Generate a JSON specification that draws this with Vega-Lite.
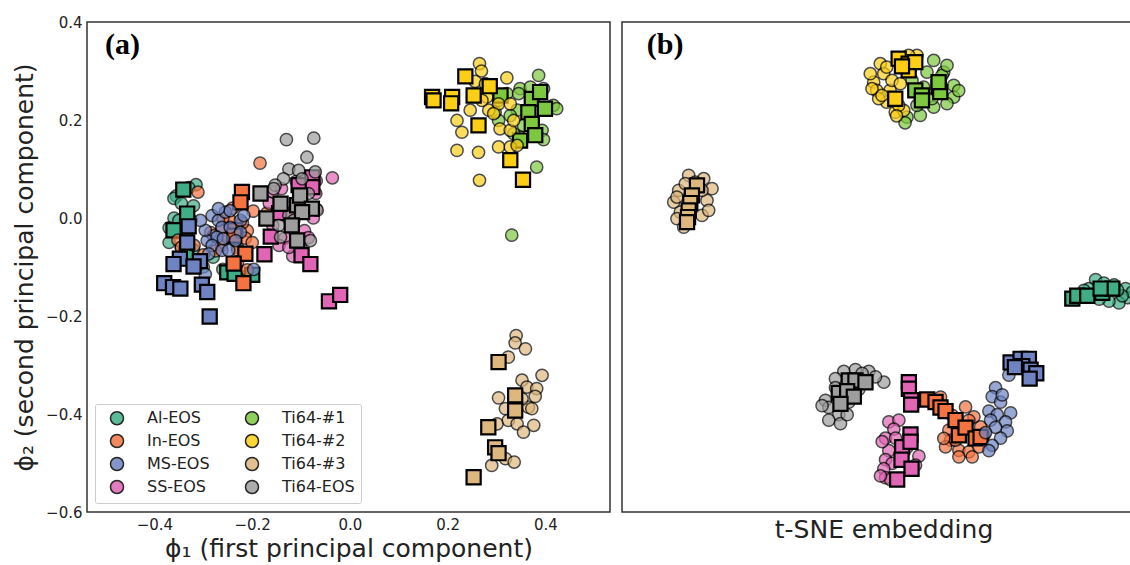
{
"$schema": "https://vega.github.io/schema/vega-lite/v6.json",
"background": "white",
"padding": {"left": 11, "top": 14, "right": 0, "bottom": 0},
"spacing": 10,
"config": {
  "font": "DejaVu Sans",
  "view": {"stroke": "#333333", "strokeWidth": 1.5},
  "axis": {"grid": false, "ticks": false, "domain": false, "labelFontSize": 15, "labelColor": "#222222", "titleFontSize": 25, "titleFontWeight": "normal", "titleColor": "#222222", "labelPadding": 5, "labelFont": "DejaVu Sans", "titleFont": "DejaVu Sans"}
},
"resolve": {"scale": {"color": "independent", "shape": "independent", "size": "independent", "opacity": "independent", "strokeWidth": "independent"}, "legend": {"color": "independent"}},
"datasets": {
"pca": [
{"group":"Al-EOS","set":"train","x":-0.315,"y":0.068},{"group":"Al-EOS","set":"train","x":-0.33,"y":0.062},{"group":"Al-EOS","set":"train","x":-0.355,"y":0.045},{"group":"Al-EOS","set":"train","x":-0.36,"y":0.04},{"group":"Al-EOS","set":"train","x":-0.345,"y":0.03},{"group":"Al-EOS","set":"train","x":-0.32,"y":0.025},{"group":"Al-EOS","set":"train","x":-0.36,"y":0.0},{"group":"Al-EOS","set":"train","x":-0.35,"y":-0.005},{"group":"Al-EOS","set":"train","x":-0.325,"y":-0.005},{"group":"Al-EOS","set":"train","x":-0.37,"y":-0.02},{"group":"Al-EOS","set":"train","x":-0.355,"y":-0.03},{"group":"Al-EOS","set":"train","x":-0.335,"y":-0.03},{"group":"Al-EOS","set":"train","x":-0.37,"y":-0.05},{"group":"Al-EOS","set":"train","x":-0.345,"y":-0.06},{"group":"Al-EOS","set":"train","x":-0.32,"y":-0.065},{"group":"Al-EOS","set":"train","x":-0.335,"y":-0.085},{"group":"Al-EOS","set":"train","x":-0.31,"y":-0.09},{"group":"Al-EOS","set":"train","x":-0.3,"y":-0.1},{"group":"Al-EOS","set":"train","x":-0.26,"y":-0.105},{"group":"Al-EOS","set":"train","x":-0.24,"y":-0.115},{"group":"Al-EOS","set":"train","x":-0.22,"y":-0.12},{"group":"Al-EOS","set":"train","x":-0.2,"y":-0.115},{"group":"Al-EOS","set":"train","x":-0.28,"y":-0.08},{"group":"Al-EOS","set":"train","x":-0.23,"y":-0.06},
{"group":"Al-EOS","set":"test","x":-0.341,"y":0.058},{"group":"Al-EOS","set":"test","x":-0.333,"y":0.009},{"group":"Al-EOS","set":"test","x":-0.361,"y":-0.025},{"group":"Al-EOS","set":"test","x":-0.335,"y":-0.075},{"group":"Al-EOS","set":"test","x":-0.251,"y":-0.111},{"group":"Al-EOS","set":"test","x":-0.236,"y":-0.114},{"group":"Al-EOS","set":"test","x":-0.2,"y":-0.116},
{"group":"In-EOS","set":"train","x":-0.184,"y":0.112},{"group":"In-EOS","set":"train","x":-0.311,"y":0.053},{"group":"In-EOS","set":"train","x":-0.198,"y":0.014},{"group":"In-EOS","set":"train","x":-0.21,"y":-0.026},{"group":"In-EOS","set":"train","x":-0.214,"y":-0.041},{"group":"In-EOS","set":"train","x":-0.246,"y":-0.004},{"group":"In-EOS","set":"train","x":-0.263,"y":-0.026},{"group":"In-EOS","set":"train","x":-0.331,"y":-0.026},{"group":"In-EOS","set":"train","x":-0.352,"y":-0.045},{"group":"In-EOS","set":"train","x":-0.319,"y":-0.056},{"group":"In-EOS","set":"train","x":-0.263,"y":-0.056},{"group":"In-EOS","set":"train","x":-0.23,"y":-0.065},{"group":"In-EOS","set":"train","x":-0.21,"y":-0.106},{"group":"In-EOS","set":"train","x":-0.275,"y":-0.067},{"group":"In-EOS","set":"train","x":-0.3,"y":-0.075},{"group":"In-EOS","set":"train","x":-0.25,"y":-0.04},{"group":"In-EOS","set":"train","x":-0.22,"y":-0.01},{"group":"In-EOS","set":"train","x":-0.24,"y":0.02},{"group":"In-EOS","set":"train","x":-0.285,"y":-0.03},{"group":"In-EOS","set":"train","x":-0.2,"y":-0.05},{"group":"In-EOS","set":"train","x":-0.17,"y":0.01},{"group":"In-EOS","set":"train","x":-0.345,"y":-0.06},{"group":"In-EOS","set":"train","x":-0.26,"y":0.0},{"group":"In-EOS","set":"train","x":-0.23,"y":-0.09},
{"group":"In-EOS","set":"test","x":-0.221,"y":0.053},{"group":"In-EOS","set":"test","x":-0.224,"y":0.032},{"group":"In-EOS","set":"test","x":-0.235,"y":-0.025},{"group":"In-EOS","set":"test","x":-0.237,"y":-0.036},{"group":"In-EOS","set":"test","x":-0.214,"y":-0.073},{"group":"In-EOS","set":"test","x":-0.238,"y":-0.093},{"group":"In-EOS","set":"test","x":-0.218,"y":-0.133},
{"group":"MS-EOS","set":"train","x":-0.282,"y":0.005},{"group":"MS-EOS","set":"train","x":-0.269,"y":-0.005},{"group":"MS-EOS","set":"train","x":-0.255,"y":0.012},{"group":"MS-EOS","set":"train","x":-0.262,"y":-0.019},{"group":"MS-EOS","set":"train","x":-0.245,"y":-0.019},{"group":"MS-EOS","set":"train","x":-0.279,"y":-0.036},{"group":"MS-EOS","set":"train","x":-0.292,"y":-0.046},{"group":"MS-EOS","set":"train","x":-0.272,"y":-0.039},{"group":"MS-EOS","set":"train","x":-0.296,"y":-0.025},{"group":"MS-EOS","set":"train","x":-0.282,"y":-0.056},{"group":"MS-EOS","set":"train","x":-0.262,"y":-0.066},{"group":"MS-EOS","set":"train","x":-0.248,"y":-0.066},{"group":"MS-EOS","set":"train","x":-0.289,"y":-0.073},{"group":"MS-EOS","set":"train","x":-0.224,"y":-0.005},{"group":"MS-EOS","set":"train","x":-0.217,"y":0.005},{"group":"MS-EOS","set":"train","x":-0.224,"y":-0.029},{"group":"MS-EOS","set":"train","x":-0.234,"y":-0.046},{"group":"MS-EOS","set":"train","x":-0.197,"y":-0.105},{"group":"MS-EOS","set":"train","x":-0.296,"y":-0.115},{"group":"MS-EOS","set":"train","x":-0.245,"y":0.015},{"group":"MS-EOS","set":"train","x":-0.269,"y":0.019},{"group":"MS-EOS","set":"train","x":-0.306,"y":-0.005},{"group":"MS-EOS","set":"train","x":-0.259,"y":-0.042},
{"group":"MS-EOS","set":"test","x":-0.33,"y":-0.017},{"group":"MS-EOS","set":"test","x":-0.333,"y":-0.05},{"group":"MS-EOS","set":"test","x":-0.348,"y":-0.083},{"group":"MS-EOS","set":"test","x":-0.361,"y":-0.094},{"group":"MS-EOS","set":"test","x":-0.307,"y":-0.088},{"group":"MS-EOS","set":"test","x":-0.32,"y":-0.099},{"group":"MS-EOS","set":"test","x":-0.38,"y":-0.133},{"group":"MS-EOS","set":"test","x":-0.362,"y":-0.141},{"group":"MS-EOS","set":"test","x":-0.347,"y":-0.144},{"group":"MS-EOS","set":"test","x":-0.303,"y":-0.136},{"group":"MS-EOS","set":"test","x":-0.292,"y":-0.151},{"group":"MS-EOS","set":"test","x":-0.287,"y":-0.201},
{"group":"SS-EOS","set":"train","x":-0.036,"y":0.082},{"group":"SS-EOS","set":"train","x":-0.069,"y":0.076},{"group":"SS-EOS","set":"train","x":-0.09,"y":0.08},{"group":"SS-EOS","set":"train","x":-0.11,"y":0.075},{"group":"SS-EOS","set":"train","x":-0.145,"y":0.032},{"group":"SS-EOS","set":"train","x":-0.069,"y":0.018},{"group":"SS-EOS","set":"train","x":-0.158,"y":0.054},{"group":"SS-EOS","set":"train","x":-0.093,"y":-0.026},{"group":"SS-EOS","set":"train","x":-0.158,"y":-0.015},{"group":"SS-EOS","set":"train","x":-0.133,"y":-0.041},{"group":"SS-EOS","set":"train","x":-0.101,"y":-0.056},{"group":"SS-EOS","set":"train","x":-0.145,"y":-0.056},{"group":"SS-EOS","set":"train","x":-0.117,"y":-0.078},{"group":"SS-EOS","set":"train","x":-0.075,"y":0.0},{"group":"SS-EOS","set":"train","x":-0.12,"y":0.01},{"group":"SS-EOS","set":"train","x":-0.1,"y":0.04},{"group":"SS-EOS","set":"train","x":-0.085,"y":-0.04},{"group":"SS-EOS","set":"train","x":-0.165,"y":0.03},{"group":"SS-EOS","set":"train","x":-0.125,"y":-0.06},{"group":"SS-EOS","set":"train","x":-0.07,"y":0.05},{"group":"SS-EOS","set":"train","x":-0.14,"y":0.06},{"group":"SS-EOS","set":"train","x":-0.105,"y":0.02},
{"group":"SS-EOS","set":"test","x":-0.077,"y":0.083},{"group":"SS-EOS","set":"test","x":-0.077,"y":0.063},{"group":"SS-EOS","set":"test","x":-0.105,"y":0.067},{"group":"SS-EOS","set":"test","x":-0.145,"y":0.01},{"group":"SS-EOS","set":"test","x":-0.162,"y":-0.038},{"group":"SS-EOS","set":"test","x":-0.175,"y":-0.074},{"group":"SS-EOS","set":"test","x":-0.099,"y":-0.076},{"group":"SS-EOS","set":"test","x":-0.081,"y":-0.094},{"group":"SS-EOS","set":"test","x":-0.043,"y":-0.17},{"group":"SS-EOS","set":"test","x":-0.02,"y":-0.157},
{"group":"Ti64-#1","set":"train","x":0.386,"y":0.291},{"group":"Ti64-#1","set":"train","x":0.348,"y":0.264},{"group":"Ti64-#1","set":"train","x":0.396,"y":0.264},{"group":"Ti64-#1","set":"train","x":0.321,"y":0.254},{"group":"Ti64-#1","set":"train","x":0.345,"y":0.254},{"group":"Ti64-#1","set":"train","x":0.416,"y":0.23},{"group":"Ti64-#1","set":"train","x":0.423,"y":0.223},{"group":"Ti64-#1","set":"train","x":0.342,"y":0.22},{"group":"Ti64-#1","set":"train","x":0.304,"y":0.199},{"group":"Ti64-#1","set":"train","x":0.328,"y":0.209},{"group":"Ti64-#1","set":"train","x":0.355,"y":0.189},{"group":"Ti64-#1","set":"train","x":0.393,"y":0.179},{"group":"Ti64-#1","set":"train","x":0.396,"y":0.16},{"group":"Ti64-#1","set":"train","x":0.348,"y":0.165},{"group":"Ti64-#1","set":"train","x":0.382,"y":0.104},{"group":"Ti64-#1","set":"train","x":0.297,"y":0.216},{"group":"Ti64-#1","set":"train","x":0.335,"y":0.172},{"group":"Ti64-#1","set":"train","x":0.304,"y":0.24},{"group":"Ti64-#1","set":"train","x":0.369,"y":0.267},{"group":"Ti64-#1","set":"train","x":0.331,"y":-0.035},
{"group":"Ti64-#1","set":"test","x":0.308,"y":0.25},{"group":"Ti64-#1","set":"test","x":0.372,"y":0.243},{"group":"Ti64-#1","set":"test","x":0.389,"y":0.257},{"group":"Ti64-#1","set":"test","x":0.365,"y":0.216},{"group":"Ti64-#1","set":"test","x":0.399,"y":0.223},{"group":"Ti64-#1","set":"test","x":0.372,"y":0.192},{"group":"Ti64-#1","set":"test","x":0.379,"y":0.169},{"group":"Ti64-#1","set":"test","x":0.348,"y":0.158},
{"group":"Ti64-#2","set":"train","x":0.265,"y":0.315},{"group":"Ti64-#2","set":"train","x":0.269,"y":0.3},{"group":"Ti64-#2","set":"train","x":0.256,"y":0.279},{"group":"Ti64-#2","set":"train","x":0.321,"y":0.286},{"group":"Ti64-#2","set":"train","x":0.246,"y":0.22},{"group":"Ti64-#2","set":"train","x":0.219,"y":0.199},{"group":"Ti64-#2","set":"train","x":0.229,"y":0.175},{"group":"Ti64-#2","set":"train","x":0.284,"y":0.22},{"group":"Ti64-#2","set":"train","x":0.304,"y":0.233},{"group":"Ti64-#2","set":"train","x":0.328,"y":0.233},{"group":"Ti64-#2","set":"train","x":0.307,"y":0.182},{"group":"Ti64-#2","set":"train","x":0.328,"y":0.179},{"group":"Ti64-#2","set":"train","x":0.304,"y":0.145},{"group":"Ti64-#2","set":"train","x":0.328,"y":0.145},{"group":"Ti64-#2","set":"train","x":0.342,"y":0.148},{"group":"Ti64-#2","set":"train","x":0.219,"y":0.138},{"group":"Ti64-#2","set":"train","x":0.263,"y":0.134},{"group":"Ti64-#2","set":"train","x":0.265,"y":0.077},{"group":"Ti64-#2","set":"train","x":0.28,"y":0.247},{"group":"Ti64-#2","set":"train","x":0.277,"y":0.274},{"group":"Ti64-#2","set":"train","x":0.27,"y":0.24},{"group":"Ti64-#2","set":"train","x":0.294,"y":0.213},{"group":"Ti64-#2","set":"train","x":0.335,"y":0.199},
{"group":"Ti64-#2","set":"test","x":0.168,"y":0.247},{"group":"Ti64-#2","set":"test","x":0.171,"y":0.24},{"group":"Ti64-#2","set":"test","x":0.209,"y":0.247},{"group":"Ti64-#2","set":"test","x":0.207,"y":0.234},{"group":"Ti64-#2","set":"test","x":0.236,"y":0.289},{"group":"Ti64-#2","set":"test","x":0.253,"y":0.25},{"group":"Ti64-#2","set":"test","x":0.286,"y":0.269},{"group":"Ti64-#2","set":"test","x":0.263,"y":0.189},{"group":"Ti64-#2","set":"test","x":0.328,"y":0.118},{"group":"Ti64-#2","set":"test","x":0.354,"y":0.078},
{"group":"Ti64-#3","set":"train","x":0.34,"y":-0.24},{"group":"Ti64-#3","set":"train","x":0.338,"y":-0.255},{"group":"Ti64-#3","set":"train","x":0.359,"y":-0.267},{"group":"Ti64-#3","set":"train","x":0.324,"y":-0.284},{"group":"Ti64-#3","set":"train","x":0.352,"y":-0.331},{"group":"Ti64-#3","set":"train","x":0.393,"y":-0.321},{"group":"Ti64-#3","set":"train","x":0.362,"y":-0.345},{"group":"Ti64-#3","set":"train","x":0.382,"y":-0.348},{"group":"Ti64-#3","set":"train","x":0.379,"y":-0.364},{"group":"Ti64-#3","set":"train","x":0.304,"y":-0.367},{"group":"Ti64-#3","set":"train","x":0.318,"y":-0.389},{"group":"Ti64-#3","set":"train","x":0.365,"y":-0.386},{"group":"Ti64-#3","set":"train","x":0.372,"y":-0.389},{"group":"Ti64-#3","set":"train","x":0.301,"y":-0.42},{"group":"Ti64-#3","set":"train","x":0.324,"y":-0.413},{"group":"Ti64-#3","set":"train","x":0.342,"y":-0.42},{"group":"Ti64-#3","set":"train","x":0.376,"y":-0.423},{"group":"Ti64-#3","set":"train","x":0.355,"y":-0.437},{"group":"Ti64-#3","set":"train","x":0.29,"y":-0.505},{"group":"Ti64-#3","set":"train","x":0.318,"y":-0.491},{"group":"Ti64-#3","set":"train","x":0.336,"y":-0.498},{"group":"Ti64-#3","set":"train","x":0.352,"y":-0.369},
{"group":"Ti64-#3","set":"test","x":0.304,"y":-0.294},{"group":"Ti64-#3","set":"test","x":0.338,"y":-0.362},{"group":"Ti64-#3","set":"test","x":0.338,"y":-0.393},{"group":"Ti64-#3","set":"test","x":0.283,"y":-0.427},{"group":"Ti64-#3","set":"test","x":0.297,"y":-0.468},{"group":"Ti64-#3","set":"test","x":0.304,"y":-0.48},{"group":"Ti64-#3","set":"test","x":0.253,"y":-0.529},
{"group":"Ti64-EOS","set":"train","x":-0.13,"y":0.16},{"group":"Ti64-EOS","set":"train","x":-0.074,"y":0.163},{"group":"Ti64-EOS","set":"train","x":-0.088,"y":0.124},{"group":"Ti64-EOS","set":"train","x":-0.125,"y":0.1},{"group":"Ti64-EOS","set":"train","x":-0.105,"y":0.097},{"group":"Ti64-EOS","set":"train","x":-0.071,"y":0.094},{"group":"Ti64-EOS","set":"train","x":-0.136,"y":0.08},{"group":"Ti64-EOS","set":"train","x":-0.153,"y":0.067},{"group":"Ti64-EOS","set":"train","x":-0.085,"y":0.05},{"group":"Ti64-EOS","set":"train","x":-0.067,"y":0.016},{"group":"Ti64-EOS","set":"train","x":-0.125,"y":0.005},{"group":"Ti64-EOS","set":"train","x":-0.146,"y":-0.015},{"group":"Ti64-EOS","set":"train","x":-0.142,"y":-0.039},{"group":"Ti64-EOS","set":"train","x":-0.081,"y":-0.046},{"group":"Ti64-EOS","set":"train","x":-0.115,"y":-0.005},{"group":"Ti64-EOS","set":"train","x":-0.098,"y":0.08},{"group":"Ti64-EOS","set":"train","x":-0.156,"y":0.06},
{"group":"Ti64-EOS","set":"test","x":-0.183,"y":0.05},{"group":"Ti64-EOS","set":"test","x":-0.142,"y":0.029},{"group":"Ti64-EOS","set":"test","x":-0.108,"y":0.026},{"group":"Ti64-EOS","set":"test","x":-0.102,"y":0.046},{"group":"Ti64-EOS","set":"test","x":-0.078,"y":0.019},{"group":"Ti64-EOS","set":"test","x":-0.098,"y":0.012},{"group":"Ti64-EOS","set":"test","x":-0.171,"y":-0.001},{"group":"Ti64-EOS","set":"test","x":-0.119,"y":-0.015},{"group":"Ti64-EOS","set":"test","x":-0.108,"y":-0.046}
],
"tsne": [
{"group":"Al-EOS","set":"train","x":32.45,"y":-1.8},{"group":"Al-EOS","set":"train","x":33.72,"y":-2.31},{"group":"Al-EOS","set":"train","x":35.26,"y":-2.57},{"group":"Al-EOS","set":"train","x":37.04,"y":-3.08},{"group":"Al-EOS","set":"train","x":37.3,"y":-4.37},{"group":"Al-EOS","set":"train","x":36.02,"y":-5.14},{"group":"Al-EOS","set":"train","x":34.49,"y":-4.89},{"group":"Al-EOS","set":"train","x":31.43,"y":-3.08},{"group":"Al-EOS","set":"train","x":30.66,"y":-3.34},{"group":"Al-EOS","set":"train","x":38.06,"y":-3.6},{"group":"Al-EOS","set":"train","x":38.83,"y":-4.63},{"group":"Al-EOS","set":"train","x":36.53,"y":-4.11},{"group":"Al-EOS","set":"train","x":33.0,"y":-4.6},{"group":"Al-EOS","set":"train","x":35.8,"y":-3.3},
{"group":"Al-EOS","set":"test","x":28.88,"y":-4.52},{"group":"Al-EOS","set":"test","x":29.64,"y":-4.11},{"group":"Al-EOS","set":"test","x":31.17,"y":-4.11},{"group":"Al-EOS","set":"test","x":33.47,"y":-3.7},{"group":"Al-EOS","set":"test","x":35.0,"y":-3.08},{"group":"Al-EOS","set":"test","x":33.21,"y":-3.08},
{"group":"In-EOS","set":"train","x":8.72,"y":-18.58},{"group":"In-EOS","set":"train","x":12.55,"y":-19.99},{"group":"In-EOS","set":"train","x":13.83,"y":-21.4},{"group":"In-EOS","set":"train","x":10.51,"y":-21.2},{"group":"In-EOS","set":"train","x":13.06,"y":-21.9},{"group":"In-EOS","set":"train","x":10.0,"y":-23.31},{"group":"In-EOS","set":"train","x":10.26,"y":-24.75},{"group":"In-EOS","set":"train","x":9.49,"y":-25.7},{"group":"In-EOS","set":"train","x":11.53,"y":-26.19},{"group":"In-EOS","set":"train","x":13.06,"y":-26.4},{"group":"In-EOS","set":"train","x":14.59,"y":-25.7},{"group":"In-EOS","set":"train","x":15.36,"y":-24.03},{"group":"In-EOS","set":"train","x":13.57,"y":-27.12},{"group":"In-EOS","set":"train","x":11.53,"y":-27.12},{"group":"In-EOS","set":"train","x":9.23,"y":-24.49},{"group":"In-EOS","set":"train","x":14.85,"y":-22.85},{"group":"In-EOS","set":"train","x":11.02,"y":-24.75},
{"group":"In-EOS","set":"test","x":6.68,"y":-18.93},{"group":"In-EOS","set":"test","x":7.96,"y":-19.29},{"group":"In-EOS","set":"test","x":8.72,"y":-20.07},{"group":"In-EOS","set":"test","x":9.49,"y":-20.58},{"group":"In-EOS","set":"test","x":11.02,"y":-21.87},{"group":"In-EOS","set":"test","x":11.53,"y":-24.03},{"group":"In-EOS","set":"test","x":12.55,"y":-22.95},{"group":"In-EOS","set":"test","x":14.08,"y":-24.49},{"group":"In-EOS","set":"test","x":14.85,"y":-24.29},
{"group":"MS-EOS","set":"train","x":17.14,"y":-17.24},{"group":"MS-EOS","set":"train","x":16.63,"y":-18.52},{"group":"MS-EOS","set":"train","x":17.91,"y":-19.3},{"group":"MS-EOS","set":"train","x":16.12,"y":-20.58},{"group":"MS-EOS","set":"train","x":19.44,"y":-20.84},{"group":"MS-EOS","set":"train","x":17.4,"y":-21.1},{"group":"MS-EOS","set":"train","x":16.38,"y":-21.87},{"group":"MS-EOS","set":"train","x":18.67,"y":-22.13},{"group":"MS-EOS","set":"train","x":17.14,"y":-22.9},{"group":"MS-EOS","set":"train","x":18.93,"y":-23.41},{"group":"MS-EOS","set":"train","x":17.91,"y":-24.44},{"group":"MS-EOS","set":"train","x":16.63,"y":-25.47},{"group":"MS-EOS","set":"train","x":16.12,"y":-26.24},{"group":"MS-EOS","set":"train","x":18.16,"y":-18.27},{"group":"MS-EOS","set":"train","x":19.18,"y":-15.44},{"group":"MS-EOS","set":"train","x":15.61,"y":-23.67},
{"group":"MS-EOS","set":"test","x":19.44,"y":-13.63},{"group":"MS-EOS","set":"test","x":20.97,"y":-13.12},{"group":"MS-EOS","set":"test","x":22.24,"y":-13.12},{"group":"MS-EOS","set":"test","x":21.22,"y":-14.15},{"group":"MS-EOS","set":"test","x":22.5,"y":-14.66},{"group":"MS-EOS","set":"test","x":23.37,"y":-15.18},{"group":"MS-EOS","set":"test","x":22.35,"y":-15.95},{"group":"MS-EOS","set":"test","x":20.1,"y":-14.3},
{"group":"SS-EOS","set":"train","x":0.82,"y":-22.13},{"group":"SS-EOS","set":"train","x":2.35,"y":-21.87},{"group":"SS-EOS","set":"train","x":1.58,"y":-23.16},{"group":"SS-EOS","set":"train","x":0.31,"y":-24.44},{"group":"SS-EOS","set":"train","x":0.82,"y":-26.24},{"group":"SS-EOS","set":"train","x":0.31,"y":-27.53},{"group":"SS-EOS","set":"train","x":1.33,"y":-28.05},{"group":"SS-EOS","set":"train","x":0.05,"y":-28.82},{"group":"SS-EOS","set":"train","x":0.31,"y":-30.1},{"group":"SS-EOS","set":"train","x":5.41,"y":-27.02},{"group":"SS-EOS","set":"train","x":3.62,"y":-25.73},{"group":"SS-EOS","set":"train","x":1.84,"y":-24.44},{"group":"SS-EOS","set":"train","x":-0.2,"y":-24.96},{"group":"SS-EOS","set":"train","x":1.07,"y":-30.36},{"group":"SS-EOS","set":"train","x":4.9,"y":-28.3},{"group":"SS-EOS","set":"train","x":-0.46,"y":-29.85},
{"group":"SS-EOS","set":"test","x":3.88,"y":-16.46},{"group":"SS-EOS","set":"test","x":3.88,"y":-17.39},{"group":"SS-EOS","set":"test","x":4.23,"y":-19.04},{"group":"SS-EOS","set":"test","x":4.23,"y":-19.66},{"group":"SS-EOS","set":"test","x":4.13,"y":-23.93},{"group":"SS-EOS","set":"test","x":2.86,"y":-25.73},{"group":"SS-EOS","set":"test","x":4.13,"y":-24.96},{"group":"SS-EOS","set":"test","x":2.76,"y":-27.53},{"group":"SS-EOS","set":"test","x":4.29,"y":-28.82},{"group":"SS-EOS","set":"test","x":2.09,"y":-30.36},
{"group":"Ti64-#1","set":"train","x":7.68,"y":29.51},{"group":"Ti64-#1","set":"train","x":9.21,"y":27.84},{"group":"Ti64-#1","set":"train","x":10.74,"y":25.94},{"group":"Ti64-#1","set":"train","x":10.74,"y":24.27},{"group":"Ti64-#1","set":"train","x":9.71,"y":23.33},{"group":"Ti64-#1","set":"train","x":7.68,"y":22.84},{"group":"Ti64-#1","set":"train","x":5.63,"y":21.66},{"group":"Ti64-#1","set":"train","x":3.59,"y":21.41},{"group":"Ti64-#1","set":"train","x":4.36,"y":26.66},{"group":"Ti64-#1","set":"train","x":8.95,"y":27.37},{"group":"Ti64-#1","set":"train","x":6.65,"y":27.84},{"group":"Ti64-#1","set":"train","x":7.42,"y":24.04},{"group":"Ti64-#1","set":"train","x":5.12,"y":23.09},{"group":"Ti64-#1","set":"train","x":9.71,"y":28.8},{"group":"Ti64-#1","set":"train","x":6.14,"y":25.7},{"group":"Ti64-#1","set":"train","x":3.3,"y":20.6},{"group":"Ti64-#1","set":"train","x":11.5,"y":25.2},
{"group":"Ti64-#1","set":"test","x":4.86,"y":25.23},{"group":"Ti64-#1","set":"test","x":5.88,"y":24.51},{"group":"Ti64-#1","set":"test","x":5.88,"y":23.8},{"group":"Ti64-#1","set":"test","x":8.43,"y":25.7},{"group":"Ti64-#1","set":"test","x":8.68,"y":24.99},{"group":"Ti64-#1","set":"test","x":8.43,"y":26.41},
{"group":"Ti64-#2","set":"train","x":-0.49,"y":29.04},{"group":"Ti64-#2","set":"train","x":-1.5,"y":26.41},{"group":"Ti64-#2","set":"train","x":0.03,"y":27.61},{"group":"Ti64-#2","set":"train","x":-1.04,"y":25.23},{"group":"Ti64-#2","set":"train","x":1.0,"y":25.23},{"group":"Ti64-#2","set":"train","x":0.49,"y":23.56},{"group":"Ti64-#2","set":"train","x":1.8,"y":22.13},{"group":"Ti64-#2","set":"train","x":3.09,"y":22.37},{"group":"Ti64-#2","set":"train","x":-0.74,"y":24.04},{"group":"Ti64-#2","set":"train","x":-1.76,"y":25.47},{"group":"Ti64-#2","set":"train","x":5.12,"y":30.23},{"group":"Ti64-#2","set":"train","x":1.3,"y":26.66},{"group":"Ti64-#2","set":"train","x":2.57,"y":26.19},{"group":"Ti64-#2","set":"train","x":0.49,"y":28.56},{"group":"Ti64-#2","set":"train","x":3.85,"y":30.23},{"group":"Ti64-#2","set":"train","x":-2.02,"y":27.61},{"group":"Ti64-#2","set":"train","x":-0.24,"y":24.51},{"group":"Ti64-#2","set":"train","x":2.32,"y":23.09},{"group":"Ti64-#2","set":"train","x":2.0,"y":21.6},
{"group":"Ti64-#2","set":"test","x":2.32,"y":29.76},{"group":"Ti64-#2","set":"test","x":3.85,"y":29.04},{"group":"Ti64-#2","set":"test","x":3.85,"y":28.09},{"group":"Ti64-#2","set":"test","x":4.86,"y":29.27},{"group":"Ti64-#2","set":"test","x":1.8,"y":24.04},{"group":"Ti64-#2","set":"test","x":2.83,"y":28.66},
{"group":"Ti64-#3","set":"train","x":-29.8,"y":13.09},{"group":"Ti64-#3","set":"train","x":-27.5,"y":12.61},{"group":"Ti64-#3","set":"train","x":-31.33,"y":10.94},{"group":"Ti64-#3","set":"train","x":-26.23,"y":11.19},{"group":"Ti64-#3","set":"train","x":-32.09,"y":9.27},{"group":"Ti64-#3","set":"train","x":-27.0,"y":9.51},{"group":"Ti64-#3","set":"train","x":-31.08,"y":7.84},{"group":"Ti64-#3","set":"train","x":-31.59,"y":6.9},{"group":"Ti64-#3","set":"train","x":-27.76,"y":7.37},{"group":"Ti64-#3","set":"train","x":-29.8,"y":6.41},{"group":"Ti64-#3","set":"train","x":-30.56,"y":5.7},{"group":"Ti64-#3","set":"train","x":-28.79,"y":12.13},{"group":"Ti64-#3","set":"train","x":-30.32,"y":11.9},{"group":"Ti64-#3","set":"train","x":-27.76,"y":10.94},{"group":"Ti64-#3","set":"train","x":-26.74,"y":8.09},{"group":"Ti64-#3","set":"train","x":-31.6,"y":9.99},
{"group":"Ti64-#3","set":"test","x":-28.53,"y":11.66},{"group":"Ti64-#3","set":"test","x":-29.3,"y":10.23},{"group":"Ti64-#3","set":"test","x":-29.55,"y":9.13},{"group":"Ti64-#3","set":"test","x":-29.8,"y":8.09},{"group":"Ti64-#3","set":"test","x":-29.9,"y":7.13},{"group":"Ti64-#3","set":"test","x":-30.05,"y":6.41},
{"group":"Ti64-EOS","set":"train","x":-6.07,"y":-14.92},{"group":"Ti64-EOS","set":"train","x":-4.29,"y":-14.66},{"group":"Ti64-EOS","set":"train","x":-2.24,"y":-14.92},{"group":"Ti64-EOS","set":"train","x":0.05,"y":-16.46},{"group":"Ti64-EOS","set":"train","x":-1.22,"y":-15.69},{"group":"Ti64-EOS","set":"train","x":-7.35,"y":-15.95},{"group":"Ti64-EOS","set":"train","x":-8.88,"y":-19.04},{"group":"Ti64-EOS","set":"train","x":-8.37,"y":-20.07},{"group":"Ti64-EOS","set":"train","x":-6.84,"y":-21.1},{"group":"Ti64-EOS","set":"train","x":-8.37,"y":-21.87},{"group":"Ti64-EOS","set":"train","x":-6.58,"y":-22.38},{"group":"Ti64-EOS","set":"train","x":-5.56,"y":-21.1},{"group":"Ti64-EOS","set":"train","x":-5.31,"y":-19.3},{"group":"Ti64-EOS","set":"train","x":-3.78,"y":-17.49},{"group":"Ti64-EOS","set":"train","x":-9.39,"y":-19.81},{"group":"Ti64-EOS","set":"train","x":-7.35,"y":-17.24},{"group":"Ti64-EOS","set":"train","x":-3.27,"y":-15.18},
{"group":"Ti64-EOS","set":"test","x":-5.31,"y":-16.21},{"group":"Ti64-EOS","set":"test","x":-4.29,"y":-16.21},{"group":"Ti64-EOS","set":"test","x":-2.76,"y":-16.46},{"group":"Ti64-EOS","set":"test","x":-6.84,"y":-18.01},{"group":"Ti64-EOS","set":"test","x":-5.56,"y":-17.75},{"group":"Ti64-EOS","set":"test","x":-4.54,"y":-18.52},{"group":"Ti64-EOS","set":"test","x":-6.58,"y":-19.55}
]
},
"hconcat": [
{
 "width": 523, "height": 490,
 "encoding": {
   "x": {"field": "x", "type": "quantitative", "scale": {"domain": [-0.538, 0.532], "nice": false, "zero": false}, "axis": {"values": [-0.4, -0.2, 0, 0.2, 0.4], "format": ".1f", "title": "ϕ₁ (first principal component)", "titlePadding": 4}},
   "y": {"field": "y", "type": "quantitative", "scale": {"domain": [-0.6, 0.4], "nice": false, "zero": false}, "axis": {"values": [-0.6, -0.4, -0.2, 0, 0.2, 0.4], "format": ".1f", "title": "ϕ₂ (second principal component)", "titlePadding": 8}}
 },
 "layer": [
  {
   "data": {"name": "pca"},
   "mark": {"type": "point", "filled": true, "stroke": "black"},
   "encoding": {
     "color": {"field": "group", "type": "nominal", "scale": {"domain": ["Al-EOS", "In-EOS", "MS-EOS", "SS-EOS", "Ti64-#1", "Ti64-#2", "Ti64-#3", "Ti64-EOS"], "range": ["#3fae86", "#f47340", "#6f83c2", "#e065b5", "#7dc83e", "#fcce16", "#ddb77e", "#9e9e9e"]},
       "legend": {"orient": "none", "legendX": 8, "legendY": 382, "columns": 2, "title": null, "symbolType": "circle", "symbolSize": 170, "symbolStrokeColor": "black", "symbolStrokeWidth": 1.5, "symbolOpacity": 0.85, "labelFontSize": 16, "labelFont": "DejaVu Sans", "labelColor": "#222222", "fillColor": "white", "strokeColor": "#cccccc", "padding": 6, "rowPadding": 3, "columnPadding": 26, "labelOffset": 22, "symbolOffset": 8, "cornerRadius": 2}},
     "shape": {"field": "set", "type": "nominal", "scale": {"domain": ["train", "test"], "range": ["circle", "square"]}, "legend": null},
     "size": {"field": "set", "type": "ordinal", "scale": {"domain": ["train", "test"], "range": [150, 200]}, "legend": null},
     "opacity": {"field": "set", "type": "ordinal", "scale": {"domain": ["train", "test"], "range": [0.7, 1]}, "legend": null},
     "strokeWidth": {"field": "set", "type": "ordinal", "scale": {"domain": ["train", "test"], "range": [1.5, 2.2]}, "legend": null}
   }
  },
  {
   "data": {"values": [{"x": -0.501, "y": 0.335, "label": "(a)"}]},
   "mark": {"type": "text", "font": "Liberation Serif", "fontWeight": "bold", "fontSize": 30, "align": "left", "baseline": "alphabetic", "color": "black"},
   "encoding": {"text": {"field": "label"}}
  }
 ]
},
{
 "width": 523, "height": 490,
 "encoding": {
   "x": {"field": "x", "type": "quantitative", "scale": {"domain": [-40, 40], "nice": false, "zero": false}, "axis": {"title": "t-SNE embedding", "labels": false, "ticks": false, "domain": false, "grid": false, "titlePadding": 5}},
   "y": {"field": "y", "type": "quantitative", "scale": {"domain": [-35, 35], "nice": false, "zero": false}, "axis": null}
 },
 "layer": [
  {
   "data": {"name": "tsne"},
   "mark": {"type": "point", "filled": true, "stroke": "black"},
   "encoding": {
     "color": {"field": "group", "type": "nominal", "scale": {"domain": ["Al-EOS", "In-EOS", "MS-EOS", "SS-EOS", "Ti64-#1", "Ti64-#2", "Ti64-#3", "Ti64-EOS"], "range": ["#3fae86", "#f47340", "#6f83c2", "#e065b5", "#7dc83e", "#fcce16", "#ddb77e", "#9e9e9e"]}, "legend": null},
     "shape": {"field": "set", "type": "nominal", "scale": {"domain": ["train", "test"], "range": ["circle", "square"]}, "legend": null},
     "size": {"field": "set", "type": "ordinal", "scale": {"domain": ["train", "test"], "range": [150, 200]}, "legend": null},
     "opacity": {"field": "set", "type": "ordinal", "scale": {"domain": ["train", "test"], "range": [0.7, 1]}, "legend": null},
     "strokeWidth": {"field": "set", "type": "ordinal", "scale": {"domain": ["train", "test"], "range": [1.5, 2.2]}, "legend": null}
   }
  },
  {
   "data": {"values": [{"x": -36.2, "y": 30.4, "label": "(b)"}]},
   "mark": {"type": "text", "font": "Liberation Serif", "fontWeight": "bold", "fontSize": 30, "align": "left", "baseline": "alphabetic", "color": "black"},
   "encoding": {"text": {"field": "label"}}
  }
 ]
}
]
}
